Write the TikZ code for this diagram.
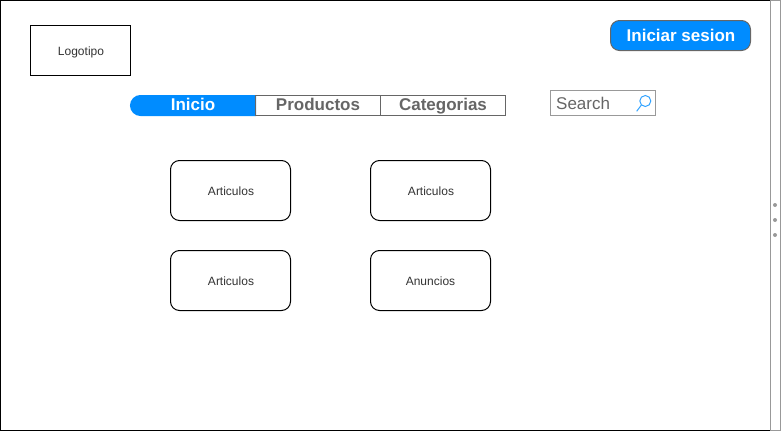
\documentclass[tikz,border=0pt]{standalone}
\usepackage{fontspec}
\setmainfont{Liberation Sans}
\definecolor{navblue}{HTML}{008CFF}
\definecolor{navgray}{HTML}{666666}
\definecolor{panelgray}{HTML}{999999}
\definecolor{txtdark}{HTML}{333333}
\tikzset{
  small/.style={font=\fontsize{12}{14}\selectfont,text height=9pt,text depth=3pt},
  big/.style={font=\bfseries\fontsize{17}{20}\selectfont,text height=12.5pt,text depth=3.5pt},
  article/.style={draw=black,line width=1pt,rounded corners=9pt,minimum width=120pt,minimum height=60pt,inner sep=0pt},
  tabcell/.style={big,draw=navgray,line width=1pt,minimum width=125pt,minimum height=20pt,inner sep=0pt,text=navgray},
}
\begin{document}
\begin{tikzpicture}[x=1pt,y=-1pt]
\useasboundingbox (0,0) rectangle (781,431);
% outer frame
\draw[black,line width=1pt] (770.5,0.5) -- (0.5,0.5) -- (0.5,430.5) -- (770.5,430.5);
\draw[panelgray,line width=1pt] (770.5,0.5) rectangle (780.5,430.5);
\foreach \yy in {205,220,235} \fill[panelgray] (775,\yy) circle[radius=2pt];
% logo
\node[draw=black,line width=1pt,minimum width=100pt,minimum height=50pt,inner sep=0pt] (logo) at (80.5,50.5) {};
\node[small,inner sep=0pt,text=txtdark] (logotext) at (81,52) {Logotipo};
% login
\node[draw=navgray,fill=navblue,line width=1pt,rounded corners=9pt,minimum width=140pt,minimum height=30pt,inner sep=0pt] (login) at (680.5,35.5) {};
\node[big,inner sep=0pt,text=white] (logintext) at (681,36.5) {Iniciar sesion};
% nav
\filldraw[navblue,line width=1pt] (140.5,95.5) arc[start angle=90,end angle=270,radius=10pt] -- (255.5,115.5) -- (255.5,95.5) -- cycle;
\node[big,minimum width=125pt,minimum height=20pt,inner sep=0pt,text=white] (tabA) at (193,105.5) {Inicio};
\node[tabcell] (tabB) at (318,105.5) {Productos};
\node[tabcell] (tabC) at (443,105.5) {Categorias};
% search
\node[draw=panelgray,line width=1pt,minimum width=105pt,minimum height=25pt,inner sep=0pt] (search) at (603,103) {};
\node[anchor=west,inner sep=0pt,text=navgray,font=\fontsize{17}{20}\selectfont] (searchtext) at (556,103) {Search};
\draw[navblue!80!white,line width=1pt] (645.3,101) circle[radius=5.5pt];
\draw[navblue!80!white,line width=1pt] (641.4,105) -- (636.7,111.3);
% articles
\node[article] (a1) at (230.5,190.5) {};
\node[article] (a2) at (430.5,190.5) {};
\node[article] (a3) at (230.5,280.5) {};
\node[article] (a4) at (430.5,280.5) {};
\node[small,inner sep=0pt,text=txtdark] (t1) at (231,192) {Articulos};
\node[small,inner sep=0pt,text=txtdark] (t2) at (431,192) {Articulos};
\node[small,inner sep=0pt,text=txtdark] (t3) at (231,282) {Articulos};
\node[small,inner sep=0pt,text=txtdark] (t4) at (430.5,282) {Anuncios};
\end{tikzpicture}
\end{document}
